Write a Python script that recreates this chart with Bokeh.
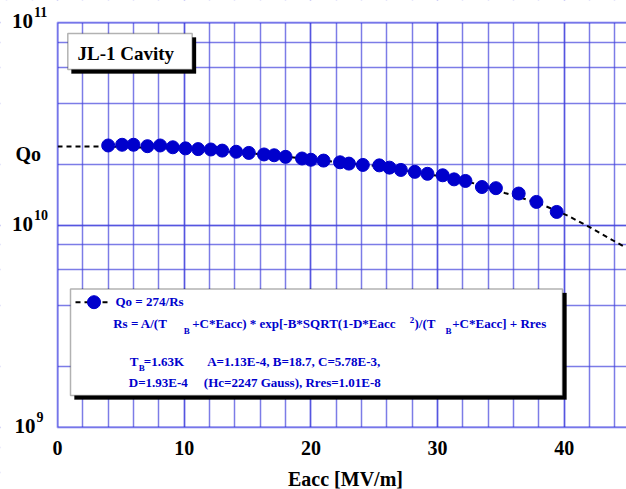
from bokeh.plotting import figure
from bokeh.models import Range1d, SingleIntervalTicker, Label, BoxAnnotation, LogTicker
from bokeh.embed import file_html
from bokeh.resources import INLINE

# ---- data ----
eacc = [4.0, 5.1, 6.0, 7.1, 8.1, 9.1, 10.1, 11.1, 12.1, 13.0, 14.1, 15.1, 16.3, 17.1,
        18.0, 19.3, 20.0, 21.0, 22.3, 23.0, 24.1, 25.4, 26.2, 27.1, 28.2, 29.2, 30.4,
        31.3, 32.2, 33.5, 34.6, 36.4, 37.8, 39.4]
qo = [2.47e10, 2.49e10, 2.49e10, 2.45e10, 2.47e10, 2.42e10, 2.39e10, 2.37e10, 2.36e10,
      2.33e10, 2.30e10, 2.27e10, 2.23e10, 2.21e10, 2.17e10, 2.13e10, 2.10e10, 2.08e10,
      2.04e10, 2.01e10, 1.98e10, 1.97e10, 1.92e10, 1.87e10, 1.83e10, 1.79e10, 1.76e10,
      1.68e10, 1.65e10, 1.54e10, 1.52e10, 1.43e10, 1.30e10, 1.16e10]
fit_e = [0, 4, 10, 15, 20, 25, 30, 33, 35.3, 38, 40.3, 42, 44.7]
fit_q = [2.44e10, 2.44e10, 2.38e10, 2.27e10, 2.11e10, 1.96e10, 1.75e10, 1.60e10,
         1.44e10, 1.28e10, 1.11e10, 9.75e9, 7.83e9]
x_tick_vals = [0, 10, 20, 30, 40]
x_tick_labels = ["0", "10", "20", "30", "40"]
y_tick_exps = [9, 10, 11]
title_text = "JL-1 Cavity"
x_label = "Eacc [MV/m]"
y_label = "Qo"
X_MIN, X_MAX = 0, 45
Y_MIN, Y_MAX = 1e9, 1e11

# ---- geometry (pixel layout of the reference) ----
W, H = 626, 489
X0_PX = 57.0          # pixel of Eacc = 0
PXU = 12.67           # pixels per MV/m
TOP_PX = 22.0         # pixel of 1e11
DEC_PX = 202.5        # pixels per decade


def dx(px):
    return (px - X0_PX) / PXU


def dy(py):
    return 10 ** (11 - (py - TOP_PX) / DEC_PX)


BLUE = "#0000dd"
GRID = "#4444dd"
TXT_BLUE = "#0000cc"
FONT = "Liberation Serif"

p = figure(width=W, height=H, x_range=Range1d(dx(0), dx(W)),
           y_range=Range1d(dy(H), dy(0)), y_axis_type="log",
           output_backend="svg", toolbar_location=None,
           min_border=0)
p.outline_line_color = None
p.background_fill_color = "white"
p.border_fill_color = "white"
p.xaxis.visible = False
p.yaxis.visible = False

# grids (only their part inside the plot box stays visible)
p.xgrid.ticker = SingleIntervalTicker(interval=10, num_minor_ticks=5)
p.ygrid.ticker = LogTicker()
for g in (p.xgrid, p.ygrid):
    g.grid_line_color = GRID
    g.grid_line_alpha = 0.7
    g.grid_line_width = 1.5
    g.minor_grid_line_color = GRID
    g.minor_grid_line_alpha = 0.7
    g.minor_grid_line_width = 1.5

# fit curve + data
p.line(fit_e, fit_q, line_color="black", line_width=2, line_dash="5 4")
p.scatter(eacc, qo, size=13, fill_color=TXT_BLUE, line_color=TXT_BLUE)

# white masks outside the plot box
p.add_layout(BoxAnnotation(right=X_MIN, fill_color="white", fill_alpha=1,
                           line_color=None))
p.add_layout(BoxAnnotation(bottom=Y_MAX, fill_color="white", fill_alpha=1,
                           line_color=None))
p.add_layout(BoxAnnotation(top=Y_MIN, fill_color="white", fill_alpha=1,
                           line_color=None))
# plot box border (right side lies outside the picture)
p.add_layout(BoxAnnotation(left=X_MIN, right=X_MAX, bottom=Y_MIN, top=Y_MAX,
                           fill_alpha=0, line_color=BLUE, line_width=2))


def lab(text, px, py, size, color="black", align="left"):
    # px, py: wanted pixel position of the text's left/centre and baseline
    shift = 4 + 0.1 * size
    p.add_layout(Label(x=dx(px), y=dy(py - shift), text=text, text_font=FONT,
                       text_font_style="bold", text_font_size=f"{size}px",
                       text_color=color, text_align=align,
                       text_baseline="alphabetic"))


# x tick labels and axis label
for v, t in zip(x_tick_vals, x_tick_labels):
    lab(t, X0_PX + v * PXU, 453.5, 20, align="center")
lab(x_label, 345, 484, 20, align="center")

# y tick labels 10^n
for e in y_tick_exps:
    tick_py = TOP_PX + (11 - e) * DEC_PX
    right = 35 if e < 10 else 32.5
    lab("10", right, tick_py + 5, 21, align="right")
    lab(str(e), right + 1, tick_py - 5, 14)
lab(y_label, 15, 159.3, 20)

# title box
p.add_layout(BoxAnnotation(left=dx(71), right=dx(195.5), top=dy(37), bottom=dy(73),
                           fill_color="black", fill_alpha=1, line_color="black"))
p.add_layout(BoxAnnotation(left=dx(67.3), right=dx(191.7), top=dy(33), bottom=dy(69),
                           fill_color="white", fill_alpha=1, line_color="black",
                           line_width=1.5))
lab(title_text, 77, 58.5, 19)

# legend box
p.add_layout(BoxAnnotation(left=dx(74), right=dx(566), top=dy(292.5), bottom=dy(399),
                           fill_color="black", fill_alpha=1, line_color="black"))
p.add_layout(BoxAnnotation(left=dx(70), right=dx(562), top=dy(288.5), bottom=dy(395),
                           fill_color="white", fill_alpha=1, line_color="black",
                           line_width=1.5))
# legend marker (drawn above the legend box)
p.line([dx(75), dx(111)], [dy(301.7), dy(301.7)], line_color="black", line_width=2,
       line_dash="5 4", level="overlay")
p.scatter([dx(93.5)], [dy(301.7)], size=13, fill_color=TXT_BLUE, line_color=TXT_BLUE,
          level="overlay")

legend_texts = [
    ("Qo = 274/Rs", 115, 306.5, 13),
    ("Rs = A/(T", 112.7, 328.3, 13),
    ("B", 183.3, 335, 9),
    ("+C*Eacc) * exp[-B*SQRT(1-D*Eacc", 191.7, 328.3, 13),
    ("2", 409.3, 324.5, 9),
    (")/(T", 414, 328.3, 13),
    ("B", 445, 335, 9),
    ("+C*Eacc] + Rres", 451.7, 328.3, 13),
    ("T", 129.3, 366, 13),
    ("B", 138.3, 372.5, 9),
    ("=1.63K", 143.3, 366, 13),
    ("A=1.13E-4, B=18.7, C=5.78E-3,", 206.7, 366, 13),
    ("D=1.93E-4", 128.3, 387.3, 13),
    ("(Hc=2247 Gauss), Rres=1.01E-8", 203.3, 387.3, 13),
]
for t, px, py, s in legend_texts:
    lab(t, px, py, s, TXT_BLUE)

open("out.html", "w").write(file_html(p, INLINE))
